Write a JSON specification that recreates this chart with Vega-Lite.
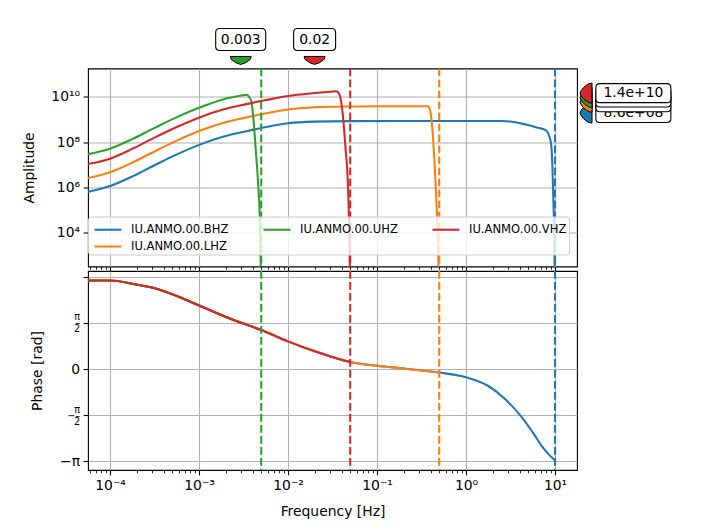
{
  "$schema": "https://vega.github.io/schema/vega-lite/v6.json",
  "autosize": {"type": "pad"},
  "padding": {"left": 21, "top": 25.5, "right": 5, "bottom": 5},
  "background": "white",
  "spacing": 4.5,
  "bounds": "flush",
  "datasets": {
    "amp": [
      {"ch": "IU.ANMO.00.BHZ", "f": 5.66e-5, "amp": 6.31e5},
      {"ch": "IU.ANMO.00.BHZ", "f": 1e-4, "amp": 1.15e6},
      {"ch": "IU.ANMO.00.BHZ", "f": 1.75e-4, "amp": 2.95e6},
      {"ch": "IU.ANMO.00.BHZ", "f": 3.2e-4, "amp": 9.77e6},
      {"ch": "IU.ANMO.00.BHZ", "f": 5.8e-4, "amp": 3.02e7},
      {"ch": "IU.ANMO.00.BHZ", "f": 1e-3, "amp": 7.59e7},
      {"ch": "IU.ANMO.00.BHZ", "f": 1.9e-3, "amp": 1.78e8},
      {"ch": "IU.ANMO.00.BHZ", "f": 3.3e-3, "amp": 2.95e8},
      {"ch": "IU.ANMO.00.BHZ", "f": 5.5e-3, "amp": 4.57e8},
      {"ch": "IU.ANMO.00.BHZ", "f": 1e-2, "amp": 6.9e8},
      {"ch": "IU.ANMO.00.BHZ", "f": 2e-2, "amp": 8.1e8},
      {"ch": "IU.ANMO.00.BHZ", "f": 5e-2, "amp": 8.5e8},
      {"ch": "IU.ANMO.00.BHZ", "f": 0.2, "amp": 8.6e8},
      {"ch": "IU.ANMO.00.BHZ", "f": 2.5, "amp": 8.6e8},
      {"ch": "IU.ANMO.00.BHZ", "f": 3.6, "amp": 7.6e8},
      {"ch": "IU.ANMO.00.BHZ", "f": 4.7, "amp": 6.0e8},
      {"ch": "IU.ANMO.00.BHZ", "f": 6.2, "amp": 4.5e8},
      {"ch": "IU.ANMO.00.BHZ", "f": 7.9, "amp": 3.3e8},
      {"ch": "IU.ANMO.00.BHZ", "f": 8.95, "amp": 1.07e8},
      {"ch": "IU.ANMO.00.BHZ", "f": 9.33, "amp": 9.8e6},
      {"ch": "IU.ANMO.00.BHZ", "f": 9.57, "amp": 3.2e5},
      {"ch": "IU.ANMO.00.BHZ", "f": 9.8, "amp": 1e4},
      {"ch": "IU.ANMO.00.BHZ", "f": 10, "amp": 30},
      {"ch": "IU.ANMO.00.LHZ", "f": 5.66e-5, "amp": 2.57e6},
      {"ch": "IU.ANMO.00.LHZ", "f": 1e-4, "amp": 4.68e6},
      {"ch": "IU.ANMO.00.LHZ", "f": 1.75e-4, "amp": 1.2e7},
      {"ch": "IU.ANMO.00.LHZ", "f": 3.2e-4, "amp": 3.98e7},
      {"ch": "IU.ANMO.00.LHZ", "f": 5.8e-4, "amp": 1.23e8},
      {"ch": "IU.ANMO.00.LHZ", "f": 1e-3, "amp": 3.09e8},
      {"ch": "IU.ANMO.00.LHZ", "f": 1.9e-3, "amp": 7.24e8},
      {"ch": "IU.ANMO.00.LHZ", "f": 3.3e-3, "amp": 1.2e9},
      {"ch": "IU.ANMO.00.LHZ", "f": 5.5e-3, "amp": 1.86e9},
      {"ch": "IU.ANMO.00.LHZ", "f": 1e-2, "amp": 2.8e9},
      {"ch": "IU.ANMO.00.LHZ", "f": 2e-2, "amp": 3.5e9},
      {"ch": "IU.ANMO.00.LHZ", "f": 5e-2, "amp": 3.8e9},
      {"ch": "IU.ANMO.00.LHZ", "f": 0.1, "amp": 3.9e9},
      {"ch": "IU.ANMO.00.LHZ", "f": 0.37, "amp": 3.9e9},
      {"ch": "IU.ANMO.00.LHZ", "f": 0.385, "amp": 3.4e9},
      {"ch": "IU.ANMO.00.LHZ", "f": 0.404, "amp": 1.62e9},
      {"ch": "IU.ANMO.00.LHZ", "f": 0.421, "amp": 2.95e8},
      {"ch": "IU.ANMO.00.LHZ", "f": 0.44, "amp": 1.95e7},
      {"ch": "IU.ANMO.00.LHZ", "f": 0.46, "amp": 6.31e5},
      {"ch": "IU.ANMO.00.LHZ", "f": 0.472, "amp": 5.89e4},
      {"ch": "IU.ANMO.00.LHZ", "f": 0.5, "amp": 30},
      {"ch": "IU.ANMO.00.UHZ", "f": 5.66e-5, "amp": 2.95e7},
      {"ch": "IU.ANMO.00.UHZ", "f": 1e-4, "amp": 5.13e7},
      {"ch": "IU.ANMO.00.UHZ", "f": 1.75e-4, "amp": 1.32e8},
      {"ch": "IU.ANMO.00.UHZ", "f": 3.2e-4, "amp": 4.37e8},
      {"ch": "IU.ANMO.00.UHZ", "f": 5.8e-4, "amp": 1.35e9},
      {"ch": "IU.ANMO.00.UHZ", "f": 1e-3, "amp": 3.31e9},
      {"ch": "IU.ANMO.00.UHZ", "f": 1.9e-3, "amp": 7.94e9},
      {"ch": "IU.ANMO.00.UHZ", "f": 3.0e-3, "amp": 1.15e10},
      {"ch": "IU.ANMO.00.UHZ", "f": 3.45e-3, "amp": 1.26e10},
      {"ch": "IU.ANMO.00.UHZ", "f": 3.65e-3, "amp": 1.0e10},
      {"ch": "IU.ANMO.00.UHZ", "f": 3.88e-3, "amp": 6.3e9},
      {"ch": "IU.ANMO.00.UHZ", "f": 4.11e-3, "amp": 8.3e8},
      {"ch": "IU.ANMO.00.UHZ", "f": 4.33e-3, "amp": 5.4e7},
      {"ch": "IU.ANMO.00.UHZ", "f": 4.6e-3, "amp": 1.8e6},
      {"ch": "IU.ANMO.00.UHZ", "f": 4.81e-3, "amp": 5.9e4},
      {"ch": "IU.ANMO.00.UHZ", "f": 5e-3, "amp": 30},
      {"ch": "IU.ANMO.00.VHZ", "f": 5.66e-5, "amp": 1.07e7},
      {"ch": "IU.ANMO.00.VHZ", "f": 1e-4, "amp": 1.86e7},
      {"ch": "IU.ANMO.00.VHZ", "f": 1.75e-4, "amp": 4.9e7},
      {"ch": "IU.ANMO.00.VHZ", "f": 3.2e-4, "amp": 1.62e8},
      {"ch": "IU.ANMO.00.VHZ", "f": 5.8e-4, "amp": 4.9e8},
      {"ch": "IU.ANMO.00.VHZ", "f": 1e-3, "amp": 1.2e9},
      {"ch": "IU.ANMO.00.VHZ", "f": 1.9e-3, "amp": 2.82e9},
      {"ch": "IU.ANMO.00.VHZ", "f": 3.3e-3, "amp": 4.68e9},
      {"ch": "IU.ANMO.00.VHZ", "f": 5.5e-3, "amp": 7.08e9},
      {"ch": "IU.ANMO.00.VHZ", "f": 1e-2, "amp": 1.1e10},
      {"ch": "IU.ANMO.00.VHZ", "f": 2e-2, "amp": 1.48e10},
      {"ch": "IU.ANMO.00.VHZ", "f": 3e-2, "amp": 1.7e10},
      {"ch": "IU.ANMO.00.VHZ", "f": 3.5e-2, "amp": 1.78e10},
      {"ch": "IU.ANMO.00.VHZ", "f": 3.79e-2, "amp": 1.26e10},
      {"ch": "IU.ANMO.00.VHZ", "f": 4.13e-2, "amp": 1.62e9},
      {"ch": "IU.ANMO.00.VHZ", "f": 4.43e-2, "amp": 5.4e7},
      {"ch": "IU.ANMO.00.VHZ", "f": 4.7e-2, "amp": 1.8e6},
      {"ch": "IU.ANMO.00.VHZ", "f": 4.85e-2, "amp": 3.2e4},
      {"ch": "IU.ANMO.00.VHZ", "f": 5e-2, "amp": 30}
    ],
    "phase": [
      {"ch": "IU.ANMO.00.BHZ", "f": 5.66e-5, "ph": 3.016},
      {"ch": "IU.ANMO.00.BHZ", "f": 1e-4, "ph": 3.016},
      {"ch": "IU.ANMO.00.BHZ", "f": 1.9e-4, "ph": 2.89},
      {"ch": "IU.ANMO.00.BHZ", "f": 3.2e-4, "ph": 2.754},
      {"ch": "IU.ANMO.00.BHZ", "f": 5.8e-4, "ph": 2.472},
      {"ch": "IU.ANMO.00.BHZ", "f": 1e-3, "ph": 2.166},
      {"ch": "IU.ANMO.00.BHZ", "f": 1.94e-3, "ph": 1.792},
      {"ch": "IU.ANMO.00.BHZ", "f": 3.1e-3, "ph": 1.56},
      {"ch": "IU.ANMO.00.BHZ", "f": 5e-3, "ph": 1.33},
      {"ch": "IU.ANMO.00.BHZ", "f": 1e-2, "ph": 0.942},
      {"ch": "IU.ANMO.00.BHZ", "f": 2e-2, "ph": 0.602},
      {"ch": "IU.ANMO.00.BHZ", "f": 3e-2, "ph": 0.43},
      {"ch": "IU.ANMO.00.BHZ", "f": 5e-2, "ph": 0.238},
      {"ch": "IU.ANMO.00.BHZ", "f": 0.1, "ph": 0.112},
      {"ch": "IU.ANMO.00.BHZ", "f": 0.21, "ph": 0.01},
      {"ch": "IU.ANMO.00.BHZ", "f": 0.5, "ph": -0.12},
      {"ch": "IU.ANMO.00.BHZ", "f": 1, "ph": -0.282},
      {"ch": "IU.ANMO.00.BHZ", "f": 1.8, "ph": -0.588},
      {"ch": "IU.ANMO.00.BHZ", "f": 2.78, "ph": -1.04},
      {"ch": "IU.ANMO.00.BHZ", "f": 4.13, "ph": -1.61},
      {"ch": "IU.ANMO.00.BHZ", "f": 6.0, "ph": -2.29},
      {"ch": "IU.ANMO.00.BHZ", "f": 7.1, "ph": -2.63},
      {"ch": "IU.ANMO.00.BHZ", "f": 8.5, "ph": -2.91},
      {"ch": "IU.ANMO.00.BHZ", "f": 10, "ph": -3.12},
      {"ch": "IU.ANMO.00.LHZ", "f": 5.66e-5, "ph": 3.016},
      {"ch": "IU.ANMO.00.LHZ", "f": 1e-4, "ph": 3.016},
      {"ch": "IU.ANMO.00.LHZ", "f": 1.9e-4, "ph": 2.89},
      {"ch": "IU.ANMO.00.LHZ", "f": 3.2e-4, "ph": 2.754},
      {"ch": "IU.ANMO.00.LHZ", "f": 5.8e-4, "ph": 2.472},
      {"ch": "IU.ANMO.00.LHZ", "f": 1e-3, "ph": 2.166},
      {"ch": "IU.ANMO.00.LHZ", "f": 1.94e-3, "ph": 1.792},
      {"ch": "IU.ANMO.00.LHZ", "f": 3.1e-3, "ph": 1.56},
      {"ch": "IU.ANMO.00.LHZ", "f": 5e-3, "ph": 1.33},
      {"ch": "IU.ANMO.00.LHZ", "f": 1e-2, "ph": 0.942},
      {"ch": "IU.ANMO.00.LHZ", "f": 2e-2, "ph": 0.602},
      {"ch": "IU.ANMO.00.LHZ", "f": 3e-2, "ph": 0.43},
      {"ch": "IU.ANMO.00.LHZ", "f": 5e-2, "ph": 0.238},
      {"ch": "IU.ANMO.00.LHZ", "f": 0.1, "ph": 0.112},
      {"ch": "IU.ANMO.00.LHZ", "f": 0.21, "ph": 0.01},
      {"ch": "IU.ANMO.00.LHZ", "f": 0.5, "ph": -0.12},
      {"ch": "IU.ANMO.00.UHZ", "f": 5.66e-5, "ph": 3.016},
      {"ch": "IU.ANMO.00.UHZ", "f": 1e-4, "ph": 3.016},
      {"ch": "IU.ANMO.00.UHZ", "f": 1.9e-4, "ph": 2.89},
      {"ch": "IU.ANMO.00.UHZ", "f": 3.2e-4, "ph": 2.754},
      {"ch": "IU.ANMO.00.UHZ", "f": 5.8e-4, "ph": 2.472},
      {"ch": "IU.ANMO.00.UHZ", "f": 1e-3, "ph": 2.166},
      {"ch": "IU.ANMO.00.UHZ", "f": 1.94e-3, "ph": 1.792},
      {"ch": "IU.ANMO.00.UHZ", "f": 3.1e-3, "ph": 1.56},
      {"ch": "IU.ANMO.00.UHZ", "f": 5e-3, "ph": 1.33},
      {"ch": "IU.ANMO.00.VHZ", "f": 5.66e-5, "ph": 3.016},
      {"ch": "IU.ANMO.00.VHZ", "f": 1e-4, "ph": 3.016},
      {"ch": "IU.ANMO.00.VHZ", "f": 1.9e-4, "ph": 2.89},
      {"ch": "IU.ANMO.00.VHZ", "f": 3.2e-4, "ph": 2.754},
      {"ch": "IU.ANMO.00.VHZ", "f": 5.8e-4, "ph": 2.472},
      {"ch": "IU.ANMO.00.VHZ", "f": 1e-3, "ph": 2.166},
      {"ch": "IU.ANMO.00.VHZ", "f": 1.94e-3, "ph": 1.792},
      {"ch": "IU.ANMO.00.VHZ", "f": 3.1e-3, "ph": 1.56},
      {"ch": "IU.ANMO.00.VHZ", "f": 5e-3, "ph": 1.33},
      {"ch": "IU.ANMO.00.VHZ", "f": 1e-2, "ph": 0.942},
      {"ch": "IU.ANMO.00.VHZ", "f": 2e-2, "ph": 0.602},
      {"ch": "IU.ANMO.00.VHZ", "f": 3e-2, "ph": 0.43},
      {"ch": "IU.ANMO.00.VHZ", "f": 5e-2, "ph": 0.238}
    ],
    "nyq": [
      {"ch": "IU.ANMO.00.BHZ", "nyq": 10},
      {"ch": "IU.ANMO.00.LHZ", "nyq": 0.5},
      {"ch": "IU.ANMO.00.UHZ", "nyq": 0.005},
      {"ch": "IU.ANMO.00.VHZ", "nyq": 0.05}
    ],
    "peaks": [
      {"ch": "IU.ANMO.00.UHZ", "f": 0.00294, "label": "0.003"},
      {"ch": "IU.ANMO.00.VHZ", "f": 0.0199, "label": "0.02"}
    ],
    "gains": [
      {"ch": "IU.ANMO.00.BHZ", "gain": 8.6e8, "label": "8.6e+08"},
      {"ch": "IU.ANMO.00.LHZ", "gain": 3.9e9, "label": "3.9e+09"},
      {"ch": "IU.ANMO.00.UHZ", "gain": 1.1e10, "label": "1.1e+10"},
      {"ch": "IU.ANMO.00.VHZ", "gain": 1.4e10, "label": "1.4e+10"}
    ]
  },
  "vconcat": [
    {
      "width": 489,
      "height": 198,
      "layer": [
        {
          "data": {"name": "amp"},
          "mark": {"type": "line", "clip": true, "strokeWidth": 2.08, "interpolate": "monotone"},
          "encoding": {
            "x": {"field": "f", "type": "quantitative", "scale": {"type": "log", "domain": [5.66e-5, 17.66], "nice": false},
              "axis": {"title": null, "labels": false,
                "values": [6e-5,7e-5,8e-5,9e-5,1e-4,2e-4,3e-4,4e-4,5e-4,6e-4,7e-4,8e-4,9e-4,0.001,0.002,0.003,0.004,0.005,0.006,0.007,0.008,0.009,0.01,0.02,0.03,0.04,0.05,0.06,0.07,0.08,0.09,0.1,0.2,0.3,0.4,0.5,0.6,0.7,0.8,0.9,1,2,3,4,5,6,7,8,9,10],
                "tickSize": {"condition": {"test": "datum.value == 0.0001 || datum.value == 0.001 || datum.value == 0.01 || datum.value == 0.1 || datum.value == 1 || datum.value == 10", "value": 4.9}, "value": 2.8},
                "tickWidth": {"condition": {"test": "datum.value == 0.0001 || datum.value == 0.001 || datum.value == 0.01 || datum.value == 0.1 || datum.value == 1 || datum.value == 10", "value": 1.1}, "value": 0.85},
                "gridOpacity": {"condition": {"test": "datum.value == 0.0001 || datum.value == 0.001 || datum.value == 0.01 || datum.value == 0.1 || datum.value == 1 || datum.value == 10", "value": 1}, "value": 0}
              }},
            "y": {"field": "amp", "type": "quantitative", "scale": {"type": "log", "domain": [316.2, 1.81e11], "nice": false},
              "axis": {"title": "Amplitude", "titlePadding": 14.6, "values": [1e4, 1e6, 1e8, 1e10],
                "labelExpr": "datum.value == 1e4 ? '10⁴' : datum.value == 1e6 ? '10⁶' : datum.value == 1e8 ? '10⁸' : '10¹⁰'"}},
            "color": {"field": "ch", "type": "nominal",
              "scale": {"domain": ["IU.ANMO.00.BHZ", "IU.ANMO.00.UHZ", "IU.ANMO.00.VHZ", "IU.ANMO.00.LHZ"], "range": ["#1f77b4", "#2ca02c", "#d62728", "#ff7f0e"]},
              "legend": {"title": null, "orient": "none", "legendX": 0, "legendY": 148, "direction": "horizontal", "columns": 3,
                "symbolType": "M-0.684,0L2.158,0", "symbolSize": 361, "symbolStrokeWidth": 2.08, "labelFontSize": 11.57, "labelOffset": 19,
                "columnPadding": 30, "rowPadding": 0, "fillColor": "rgba(255,255,255,0.8)", "strokeColor": "#cccccc",
                "cornerRadius": 3, "padding": 2, "labelColor": "black"}}
          }
        },
        {
          "data": {"name": "nyq"},
          "mark": {"type": "rule", "strokeWidth": 2.08, "strokeDash": [7.7, 3.3]},
          "encoding": {
            "x": {"field": "nyq", "type": "quantitative"},
            "color": {"field": "ch", "type": "nominal"}
          }
        },
        {
          "data": {"name": "peaks"},
          "mark": {"type": "point", "size": 400, "filled": true, "fill": "white", "stroke": "black", "strokeWidth": 1.1, "opacity": 1},
          "encoding": {
            "x": {"field": "f", "type": "quantitative"},
            "y": {"datum": 3.47e12, "type": "quantitative"},
            "shape": {"field": "label", "type": "nominal", "legend": null,
              "scale": {"domain": ["0.003", "0.02"], "range": [
                "M-2.1,-1.1L2.1,-1.1Q2.5,-1.1 2.5,-0.7L2.5,0.7Q2.5,1.1 2.1,1.1L-2.1,1.1Q-2.5,1.1 -2.5,0.7L-2.5,-0.7Q-2.5,-1.1 -2.1,-1.1Z",
                "M-1.7,-1.1L1.7,-1.1Q2.1,-1.1 2.1,-0.7L2.1,0.7Q2.1,1.1 1.7,1.1L-1.7,1.1Q-2.1,1.1 -2.1,0.7L-2.1,-0.7Q-2.1,-1.1 -1.7,-1.1Z"
              ]}}
          }
        },
        {
          "data": {"name": "peaks"},
          "mark": {"type": "text", "fontSize": 13.9, "color": "black", "baseline": "middle", "align": "center"},
          "encoding": {
            "x": {"field": "f", "type": "quantitative"},
            "y": {"datum": 3.47e12, "type": "quantitative"},
            "text": {"field": "label"}
          }
        },
        {
          "data": {"name": "peaks"},
          "mark": {"type": "point", "size": 400, "filled": true, "stroke": "black", "strokeWidth": 1, "opacity": 1,
            "shape": "M-1.05,-0.4L1.05,-0.4L0.95,-0.1Q0.5,0.3 0,0.4Q-0.5,0.3 -0.95,-0.1Z"},
          "encoding": {
            "x": {"field": "f", "type": "quantitative"},
            "y": {"datum": 4.11e11, "type": "quantitative"},
            "color": {"field": "ch", "type": "nominal"}
          }
        },
        {
          "data": {"name": "gains"},
          "transform": [{"filter": "datum.ch == 'IU.ANMO.00.BHZ'"}],
          "layer": [
            {"mark": {"type": "point", "size": 400, "filled": true, "stroke": "black", "strokeWidth": 1, "opacity": 1, "yOffset": -8,
              "shape": "M0.6,-1L0.6,1L0.3,0.95Q-0.4,0.6 -0.6,0Q-0.4,-0.6 0.3,-0.95Z"},
             "encoding": {"x": {"datum": 22.3, "type": "quantitative"}, "y": {"field": "gain", "type": "quantitative"}, "color": {"field": "ch", "type": "nominal"}}},
            {"mark": {"type": "point", "size": 400, "filled": true, "fill": "white", "stroke": "black", "strokeWidth": 1.1, "opacity": 1, "yOffset": -8,
              "shape": "M-3.35,-0.95L3.35,-0.95Q3.75,-0.95 3.75,-0.55L3.75,0.55Q3.75,0.95 3.35,0.95L-3.35,0.95Q-3.75,0.95 -3.75,0.55L-3.75,-0.55Q-3.75,-0.95 -3.35,-0.95Z"},
             "encoding": {"x": {"datum": 75.9, "type": "quantitative"}, "y": {"field": "gain", "type": "quantitative"}}},
            {"mark": {"type": "text", "fontSize": 13.9, "color": "black", "baseline": "middle", "align": "center", "yOffset": -8},
             "encoding": {"x": {"datum": 75.9, "type": "quantitative"}, "y": {"field": "gain", "type": "quantitative"}, "text": {"field": "label"}}}
          ]
        },
        {
          "data": {"name": "gains"},
          "transform": [{"filter": "datum.ch == 'IU.ANMO.00.LHZ'"}],
          "layer": [
            {"mark": {"type": "point", "size": 400, "filled": true, "stroke": "black", "strokeWidth": 1, "opacity": 1, "yOffset": -4,
              "shape": "M0.6,-1L0.6,1L0.3,0.95Q-0.4,0.6 -0.6,0Q-0.4,-0.6 0.3,-0.95Z"},
             "encoding": {"x": {"datum": 22.3, "type": "quantitative"}, "y": {"field": "gain", "type": "quantitative"}, "color": {"field": "ch", "type": "nominal"}}},
            {"mark": {"type": "point", "size": 400, "filled": true, "fill": "white", "stroke": "black", "strokeWidth": 1.1, "opacity": 1, "yOffset": -4,
              "shape": "M-3.35,-0.95L3.35,-0.95Q3.75,-0.95 3.75,-0.55L3.75,0.55Q3.75,0.95 3.35,0.95L-3.35,0.95Q-3.75,0.95 -3.75,0.55L-3.75,-0.55Q-3.75,-0.95 -3.35,-0.95Z"},
             "encoding": {"x": {"datum": 75.9, "type": "quantitative"}, "y": {"field": "gain", "type": "quantitative"}}},
            {"mark": {"type": "text", "fontSize": 13.9, "color": "black", "baseline": "middle", "align": "center", "yOffset": -4},
             "encoding": {"x": {"datum": 75.9, "type": "quantitative"}, "y": {"field": "gain", "type": "quantitative"}, "text": {"field": "label"}}}
          ]
        },
        {
          "data": {"name": "gains"},
          "transform": [{"filter": "datum.ch == 'IU.ANMO.00.UHZ'"}],
          "layer": [
            {"mark": {"type": "point", "size": 400, "filled": true, "stroke": "black", "strokeWidth": 1, "opacity": 1, "yOffset": 1.5,
              "shape": "M0.6,-1L0.6,1L0.3,0.95Q-0.4,0.6 -0.6,0Q-0.4,-0.6 0.3,-0.95Z"},
             "encoding": {"x": {"datum": 22.3, "type": "quantitative"}, "y": {"field": "gain", "type": "quantitative"}, "color": {"field": "ch", "type": "nominal"}}},
            {"mark": {"type": "point", "size": 400, "filled": true, "fill": "white", "stroke": "black", "strokeWidth": 1.1, "opacity": 1, "yOffset": 1.5,
              "shape": "M-3.35,-0.95L3.35,-0.95Q3.75,-0.95 3.75,-0.55L3.75,0.55Q3.75,0.95 3.35,0.95L-3.35,0.95Q-3.75,0.95 -3.75,0.55L-3.75,-0.55Q-3.75,-0.95 -3.35,-0.95Z"},
             "encoding": {"x": {"datum": 75.9, "type": "quantitative"}, "y": {"field": "gain", "type": "quantitative"}}},
            {"mark": {"type": "text", "fontSize": 13.9, "color": "black", "baseline": "middle", "align": "center", "yOffset": 1.5},
             "encoding": {"x": {"datum": 75.9, "type": "quantitative"}, "y": {"field": "gain", "type": "quantitative"}, "text": {"field": "label"}}}
          ]
        },
        {
          "data": {"name": "gains"},
          "transform": [{"filter": "datum.ch == 'IU.ANMO.00.VHZ'"}],
          "layer": [
            {"mark": {"type": "point", "size": 400, "filled": true, "stroke": "black", "strokeWidth": 1, "opacity": 1, "yOffset": -0.5,
              "shape": "M0.6,-1L0.6,1L0.3,0.95Q-0.4,0.6 -0.6,0Q-0.4,-0.6 0.3,-0.95Z"},
             "encoding": {"x": {"datum": 22.3, "type": "quantitative"}, "y": {"field": "gain", "type": "quantitative"}, "color": {"field": "ch", "type": "nominal"}}},
            {"mark": {"type": "point", "size": 400, "filled": true, "fill": "white", "stroke": "black", "strokeWidth": 1.1, "opacity": 1, "yOffset": -0.5,
              "shape": "M-3.35,-0.95L3.35,-0.95Q3.75,-0.95 3.75,-0.55L3.75,0.55Q3.75,0.95 3.35,0.95L-3.35,0.95Q-3.75,0.95 -3.75,0.55L-3.75,-0.55Q-3.75,-0.95 -3.35,-0.95Z"},
             "encoding": {"x": {"datum": 75.9, "type": "quantitative"}, "y": {"field": "gain", "type": "quantitative"}}},
            {"mark": {"type": "text", "fontSize": 13.9, "color": "black", "baseline": "middle", "align": "center", "yOffset": -0.5},
             "encoding": {"x": {"datum": 75.9, "type": "quantitative"}, "y": {"field": "gain", "type": "quantitative"}, "text": {"field": "label"}}}
          ]
        }
      ]
    },
    {
      "width": 489,
      "height": 199,
      "layer": [
        {
          "data": {"name": "phase"},
          "mark": {"type": "line", "clip": true, "strokeWidth": 2.08, "interpolate": "monotone"},
          "encoding": {
            "x": {"field": "f", "type": "quantitative", "scale": {"type": "log", "domain": [5.66e-5, 17.66], "nice": false},
              "axis": {"title": "Frequency [Hz]", "titlePadding": 12.5,
                "values": [6e-5,7e-5,8e-5,9e-5,1e-4,2e-4,3e-4,4e-4,5e-4,6e-4,7e-4,8e-4,9e-4,0.001,0.002,0.003,0.004,0.005,0.006,0.007,0.008,0.009,0.01,0.02,0.03,0.04,0.05,0.06,0.07,0.08,0.09,0.1,0.2,0.3,0.4,0.5,0.6,0.7,0.8,0.9,1,2,3,4,5,6,7,8,9,10],
                "labelExpr": "datum.value == 0.0001 ? '10⁻⁴' : datum.value == 0.001 ? '10⁻³' : datum.value == 0.01 ? '10⁻²' : datum.value == 0.1 ? '10⁻¹' : datum.value == 1 ? '10⁰' : datum.value == 10 ? '10¹' : ''",
                "tickSize": {"condition": {"test": "datum.value == 0.0001 || datum.value == 0.001 || datum.value == 0.01 || datum.value == 0.1 || datum.value == 1 || datum.value == 10", "value": 4.9}, "value": 2.8},
                "tickWidth": {"condition": {"test": "datum.value == 0.0001 || datum.value == 0.001 || datum.value == 0.01 || datum.value == 0.1 || datum.value == 1 || datum.value == 10", "value": 1.1}, "value": 0.85},
                "gridOpacity": {"condition": {"test": "datum.value == 0.0001 || datum.value == 0.001 || datum.value == 0.01 || datum.value == 0.1 || datum.value == 1 || datum.value == 10", "value": 1}, "value": 0}
              }},
            "y": {"field": "ph", "type": "quantitative", "scale": {"domain": [-3.444, 3.342], "nice": false, "zero": false},
              "axis": {"title": "Phase [rad]", "titlePadding": 14.6, "values": [-3.141592653589793, -1.5707963267948966, 0, 1.5707963267948966, 3.141592653589793],
                "labelExpr": "datum.value < -3 ? '−π' : datum.value < -1 ? ['π', '−–', '2'] : datum.value < 1 ? '0' : datum.value < 3 ? ['π', '–', '2'] : ''",
                "labelLineHeight": 6,
                "labelOffset": {"condition": {"test": "abs(abs(datum.value) - 1.5708) < 0.01", "value": -6}, "value": 0},
                "labelFontSize": {"condition": {"test": "abs(abs(datum.value) - 1.5708) < 0.01", "value": 9.7}, "value": 13.9}}},
            "color": {"field": "ch", "type": "nominal"}
          }
        },
        {
          "data": {"name": "nyq"},
          "mark": {"type": "rule", "strokeWidth": 2.08, "strokeDash": [7.7, 3.3]},
          "encoding": {
            "x": {"field": "nyq", "type": "quantitative"},
            "color": {"field": "ch", "type": "nominal"}
          }
        }
      ]
    }
  ],
  "config": {
    "font": "DejaVu Sans",
    "view": {"stroke": "black", "strokeWidth": 1.1},
    "axis": {"domain": false, "grid": true, "gridColor": "#b0b0b0", "gridWidth": 1.1, "tickColor": "black", "tickWidth": 1.1, "tickSize": 4.9,
      "labelFontSize": 13.9, "labelColor": "black", "labelPadding": 3.5, "titleFontSize": 13.9, "titleFontWeight": "normal", "titleColor": "black",
      "titlePadding": 5.6, "labelFlush": false, "labelOverlap": false, "labelFont": "DejaVu Sans", "titleFont": "DejaVu Sans"},
    "legend": {"labelFont": "DejaVu Sans"},
    "text": {"font": "DejaVu Sans"}
  }
}
